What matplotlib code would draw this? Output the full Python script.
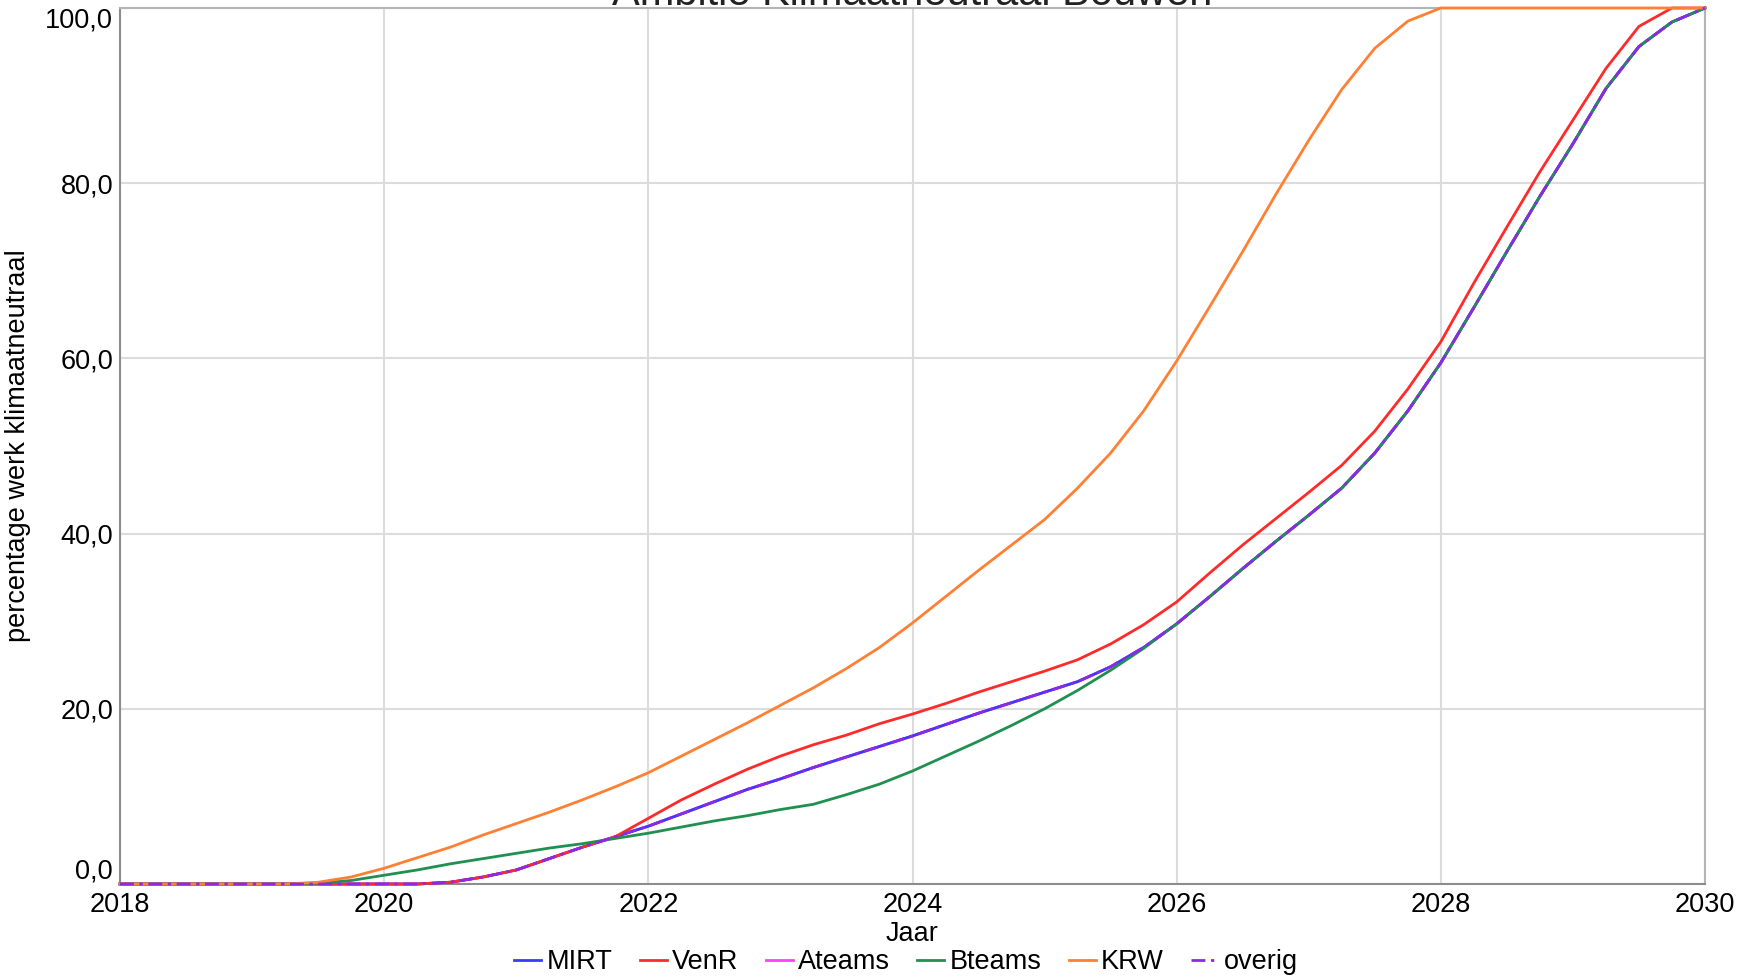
import numpy as np
import matplotlib
matplotlib.use("Agg")
import matplotlib.pyplot as plt

plt.rcParams['font.family'] = ['Liberation Sans', 'DejaVu Sans']

# quarterly time steps 2018.00 ... 2030.00
years = np.linspace(2018, 2030, 49)

mirt = [0, 0, 0, 0, 0, 0, 0, 0, 0, 0,
        0.2, 0.8, 1.6, 2.9, 4.2, 5.4, 6.6, 8.0, 9.4, 10.8, 12.0, 13.3, 14.5, 15.7,
        16.9, 18.2, 19.5, 20.7, 21.9, 23.1, 24.8, 27.0, 29.7, 32.8, 36.0, 39.1,
        42.1, 45.2, 49.2, 54.0, 59.5, 65.8, 72.2, 78.5, 84.5, 90.8, 95.6, 98.4, 100]

venr = [0, 0, 0, 0, 0, 0, 0, 0, 0, 0,
        0.2, 0.8, 1.6, 2.9, 4.2, 5.4, 7.5, 9.6, 11.4, 13.1, 14.6, 15.9, 17.0, 18.3,
        19.4, 20.6, 21.9, 23.1, 24.3, 25.6, 27.4, 29.6, 32.2, 35.5, 38.7, 41.7,
        44.7, 47.8, 51.7, 56.5, 61.9, 68.6, 75.0, 81.3, 87.2, 93.1, 97.9, 100, 100]

ateams = [0, 0, 0, 0, 0, 0, 0, 0, 0, 0,
          0.2, 0.8, 1.6, 2.9, 4.2, 5.4, 6.6, 8.0, 9.4, 10.8, 12.0, 13.3, 14.5, 15.7,
          16.9, 18.2, 19.5, 20.7, 21.9, 23.1, 24.8, 27.0, 29.7, 32.8, 36.0, 39.1,
          42.1, 45.2, 49.2, 54.0, 59.5, 65.8, 72.2, 78.5, 84.5, 90.8, 95.6, 98.4, 100]

bteams = [0, 0, 0, 0, 0, 0,
          0.1, 0.4, 1.0, 1.6, 2.3, 2.9, 3.5, 4.1, 4.6, 5.2, 5.8, 6.5, 7.2, 7.8,
          8.5, 9.1, 10.2, 11.4, 12.9, 14.6, 16.3, 18.1, 20.0, 22.1, 24.4, 26.9,
          29.7, 32.8, 36.0, 39.1, 42.1, 45.2, 49.2, 54.0, 59.5, 65.8, 72.2, 78.5,
          84.5, 90.8, 95.6, 98.4, 100]

krw = [0, 0, 0, 0, 0, 0,
       0.2, 0.8, 1.8, 3.0, 4.2, 5.6, 6.9, 8.2, 9.6, 11.1, 12.7, 14.6, 16.5, 18.4,
       20.4, 22.4, 24.6, 27.0, 29.8, 32.8, 35.8, 38.7, 41.6, 45.2, 49.2, 54.0,
       59.7, 65.9, 72.2, 78.7, 84.9, 90.7, 95.4, 98.5, 100,
       100, 100, 100, 100, 100, 100, 100, 100]

overig = [0, 0, 0, 0, 0, 0, 0, 0, 0, 0,
          0.2, 0.8, 1.6, 2.9, 4.2, 5.4, 6.6, 8.0, 9.4, 10.8, 12.0, 13.3, 14.5, 15.7,
          16.9, 18.2, 19.5, 20.7, 21.9, 23.1, 24.8, 27.0, 29.7, 32.8, 36.0, 39.1,
          42.1, 45.2, 49.2, 54.0, 59.5, 65.8, 72.2, 78.5, 84.5, 90.8, 95.6, 98.4, 100]

x_ticks = [2018, 2020, 2022, 2024, 2026, 2028, 2030]
y_ticks = [0, 20, 40, 60, 80, 100]
y_ticklabels = ["0,0", "20,0", "40,0", "60,0", "80,0", "100,0"]

W, H = 1742, 977
fig = plt.figure(figsize=(W / 100, H / 100), dpi=100)
ax = fig.add_axes([120 / W, (H - 884) / H, (1705 - 120) / W, (884 - 8) / H])

lw = 2.0
ax.plot(years, mirt, color='#3a3aff', lw=lw, label='MIRT', clip_on=False, zorder=3)
ax.plot(years, venr, color='#ff2a2a', lw=lw, label='VenR', clip_on=False, zorder=3)
ax.plot(years, ateams, color='#ff40ff', lw=lw, label='Ateams', clip_on=False, zorder=2.5)
ax.plot(years, bteams, color='#1f9050', lw=lw, label='Bteams', clip_on=False, zorder=3)
ax.plot(years, krw, color='#ff8033', lw=lw, label='KRW', clip_on=False, zorder=3)
ax.plot(years, overig, color='#8a2be2', lw=lw, ls=(0, (5, 2, 1.2, 2)), label='overig',
        clip_on=False, zorder=3)

ax.set_xlim(2018, 2030)
ax.set_ylim(0, 100)
ax.set_xticks(x_ticks)
ax.set_xticklabels([str(v) for v in x_ticks])
ax.set_yticks(y_ticks)
ax.set_yticklabels(y_ticklabels)
ax.tick_params(axis='both', length=0, labelsize=19.5, colors='black')
ax.tick_params(axis='x', pad=6)
ax.tick_params(axis='y', pad=5)
ylabels = ax.get_yticklabels()
ylabels[0].set_verticalalignment('bottom')
ylabels[-1].set_verticalalignment('top')

ax.grid(True, color='#dcdcdc', lw=1.5, zorder=0)
ax.set_axisbelow(True)
for side in ['left', 'bottom']:
    ax.spines[side].set_color('#8c8c8c')
    ax.spines[side].set_linewidth(1.5)
for side in ['top', 'right']:
    ax.spines[side].set_color('#b4b4b4')
    ax.spines[side].set_linewidth(1.5)

ax.set_xlabel('Jaar', fontsize=19.5, labelpad=2)
ax.set_ylabel('percentage werk klimaatneutraal', fontsize=19.5, labelpad=10)

fig.text((120 + 1705) / 2 / W, 1 - 5 / H, 'Ambitie Klimaatneutraal Bouwen',
         ha='center', va='baseline', fontsize=30, color='#222222')

leg = fig.legend(loc='center', bbox_to_anchor=(906 / W, 1 - 962 / H), ncol=6,
                 frameon=False, fontsize=19.5, handlelength=1.0, handletextpad=0.2,
                 columnspacing=1.0, borderaxespad=0)

fig.savefig('out.png', dpi=100)
